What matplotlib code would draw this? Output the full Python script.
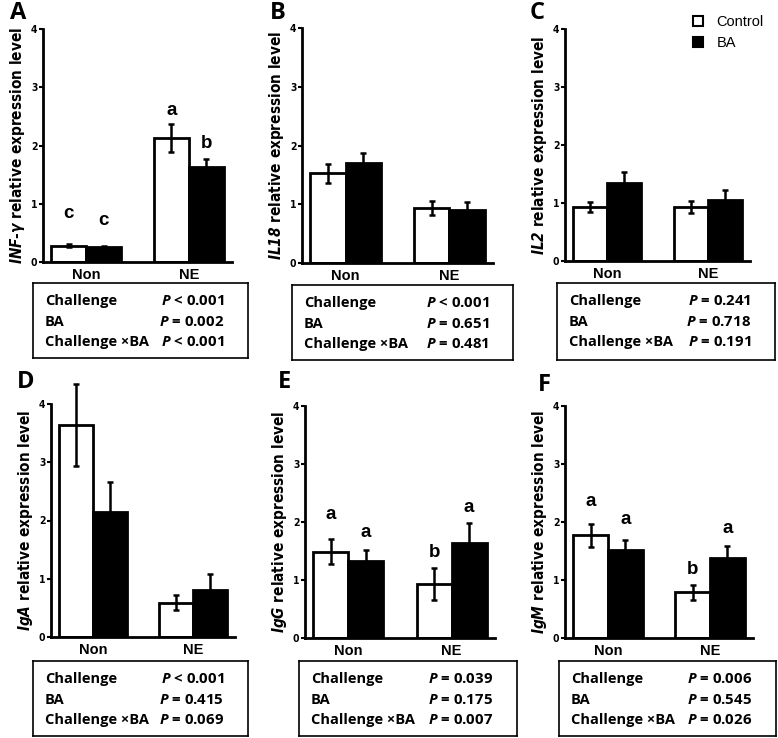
import numpy as np
import matplotlib
matplotlib.use('Agg')
import matplotlib.pyplot as plt
from matplotlib import font_manager as fm
from matplotlib.patches import Patch

W, H = 778, 738

def has_font(name):
    try:
        fm.findfont(name, fallback_to_default=False)
        return True
    except ValueError:
        return False

NARROW = 'Liberation Sans Narrow' if has_font('Liberation Sans Narrow') else 'DejaVu Sans'
BOXFONT = 'Open Sans' if has_font('Open Sans') else 'DejaVu Sans'

plt.rcParams['font.family'] = ['Liberation Sans', 'DejaVu Sans']
plt.rcParams['mathtext.fontset'] = 'custom'
plt.rcParams['mathtext.it'] = BOXFONT + ':style=italic:weight=bold'
plt.rcParams['mathtext.bfit'] = NARROW + ':style=italic:weight=bold:stretch=condensed'
plt.rcParams['mathtext.bf'] = NARROW + ':weight=bold:stretch=condensed'

# ---- data ----
groups = ['Non', 'NE']
panel_ids = ['A', 'B', 'C', 'D', 'E', 'F']
genes = ['INF-γ', 'IL18', 'IL2', 'IgA', 'IgG', 'IgM']

# means [Non, NE]
control_mean = {
    'A': [0.28, 2.13], 'B': [1.53, 0.94], 'C': [0.93, 0.93],
    'D': [3.64, 0.59], 'E': [1.49, 0.93], 'F': [1.77, 0.79],
}
control_err = {
    'A': [0.03, 0.24], 'B': [0.16, 0.12], 'C': [0.08, 0.11],
    'D': [0.71, 0.13], 'E': [0.21, 0.28], 'F': [0.20, 0.13],
}
ba_mean = {
    'A': [0.25, 1.63], 'B': [1.71, 0.90], 'C': [1.35, 1.06],
    'D': [2.15, 0.81], 'E': [1.32, 1.64], 'F': [1.51, 1.38],
}
ba_err = {
    'A': [0.03, 0.14], 'B': [0.17, 0.14], 'C': [0.19, 0.16],
    'D': [0.51, 0.27], 'E': [0.19, 0.35], 'F': [0.18, 0.20],
}
# significance letters [ctrl Non, BA Non, ctrl NE, BA NE] and their baseline heights
letters = {
    'A': ['c', 'c', 'a', 'b'],
    'E': ['a', 'a', 'b', 'a'],
    'F': ['a', 'a', 'b', 'a'],
}
letter_y = {
    'A': [0.75, 0.64, 2.52, 1.95],
    'E': [2.06, 1.74, 1.39, 2.17],
    'F': [2.28, 1.96, 1.11, 1.81],
}
effects = ['Challenge', 'BA', 'Challenge ×BA']
pvalues = {
    'A': ['< 0.001', '= 0.002', '< 0.001'],
    'B': ['< 0.001', '= 0.651', '= 0.481'],
    'C': ['= 0.241', '= 0.718', '= 0.191'],
    'D': ['< 0.001', '= 0.415', '= 0.069'],
    'E': ['= 0.039', '= 0.175', '= 0.007'],
    'F': ['= 0.006', '= 0.545', '= 0.026'],
}

# ---- layout in pixels: (left, top, right, bottom) ----
axes_px = {
    'A': (43, 29, 232, 262), 'B': (302, 28, 493, 263), 'C': (565, 29, 750, 261),
    'D': (51, 404, 235, 637), 'E': (305, 406, 495, 638), 'F': (565, 406, 753, 638),
}
box_px = {
    'A': (33, 283, 248, 358), 'B': (292, 285, 513, 360), 'C': (557, 283, 775, 360),
    'D': (33, 661, 248, 736), 'E': (299, 661, 517, 736), 'F': (559, 661, 776, 736),
}
letter_px = {
    'A': (10, 1), 'B': (270, 1), 'C': (530, 1),
    'D': (17, 370), 'E': (278, 370), 'F': (538, 373),
}

def rect(px):
    l, t, r, b = px
    return [l / W, 1 - b / H, (r - l) / W, (b - t) / H]

fig = plt.figure(figsize=(W / 100, H / 100), dpi=100)
fig.patch.set_facecolor('white')

bw = 0.34
xg = np.arange(len(groups))
lab_font = dict(family=NARROW, weight='bold', stretch='condensed')

for pid, gene in zip(panel_ids, genes):
    ax = fig.add_axes(rect(axes_px[pid]))
    ekw = dict(ecolor='black', elinewidth=1.8, capsize=2.5, capthick=1.8)
    b1 = ax.bar(xg - bw, control_mean[pid], bw, align='edge', color='white',
                edgecolor='black', linewidth=2.0, yerr=control_err[pid],
                error_kw=ekw, zorder=2)
    b2 = ax.bar(xg, ba_mean[pid], bw, align='edge', color='black',
                edgecolor='black', linewidth=2.0, yerr=ba_err[pid],
                error_kw=ekw, zorder=2)
    for cont in (b1, b2):
        for ln in list(cont.errorbar.lines[1]) + list(cont.errorbar.lines[2]):
            ln.set_clip_on(False)
    ax.set_xlim(-0.42, 1.42)
    ax.set_ylim(0, 4)
    ax.set_yticks([0, 1, 2, 3, 4])
    ax.set_yticklabels(['0', '1', '2', '3', '4'], fontsize=7.5, **lab_font)
    ax.set_xticks(xg)
    ax.set_xticklabels(groups, fontsize=10.5, fontweight='bold')
    ax.tick_params(axis='y', length=3, width=1.5, pad=1)
    ax.tick_params(axis='x', length=0, pad=4)
    for s in ('top', 'right'):
        ax.spines[s].set_visible(False)
    for s in ('left', 'bottom'):
        ax.spines[s].set_linewidth(2.0)
    parts = gene.split('-')
    gtxt = '-'.join(r'$\mathbfit{' + p + '}$' for p in parts)
    ax.set_ylabel(gtxt + ' relative expression level', fontsize=11,
                  labelpad=3, **lab_font)

    if pid in letters:
        xs = [xg[0] - bw / 2, xg[0] + bw / 2, xg[1] - bw / 2, xg[1] + bw / 2]
        for x, lab, y in zip(xs, letters[pid], letter_y[pid]):
            ax.text(x, y, lab, ha='center', va='baseline', fontsize=13.5,
                    fontweight='bold')

    # statistics box
    bx = fig.add_axes(rect(box_px[pid]))
    bx.set_xticks([])
    bx.set_yticks([])
    for s in bx.spines.values():
        s.set_linewidth(1.2)
    l, t, r, b = box_px[pid]
    bwid, bhei = r - l, b - t
    for i, (eff, pv) in enumerate(zip(effects, pvalues[pid])):
        yy = 1 - (18 + 20.5 * i) / bhei
        bx.text(12 / bwid, yy, eff, transform=bx.transAxes, ha='left', va='center',
                fontsize=10.5, fontweight='bold', family=BOXFONT)
        bx.text(1 - 24 / bwid, yy, r'$\mathit{P}$ ' + pv, transform=bx.transAxes,
                ha='right', va='center', fontsize=10.8, fontweight='bold', family=BOXFONT)

    lx, ly = letter_px[pid]
    fig.text(lx / W, 1 - ly / H, pid, ha='left', va='top', fontsize=17,
             fontweight='bold', family=BOXFONT)

handles = [Patch(facecolor='white', edgecolor='black', linewidth=1.5),
           Patch(facecolor='black', edgecolor='black', linewidth=1.5)]
fig.legend(handles, ['Control', 'BA'], loc='upper left',
           bbox_to_anchor=(683 / W, 1 - 5 / H), frameon=False, fontsize=10.5,
           handlelength=0.7, handleheight=0.7, handletextpad=0.9,
           labelspacing=0.45, borderpad=0.2)

fig.savefig('out.png', dpi=100)
